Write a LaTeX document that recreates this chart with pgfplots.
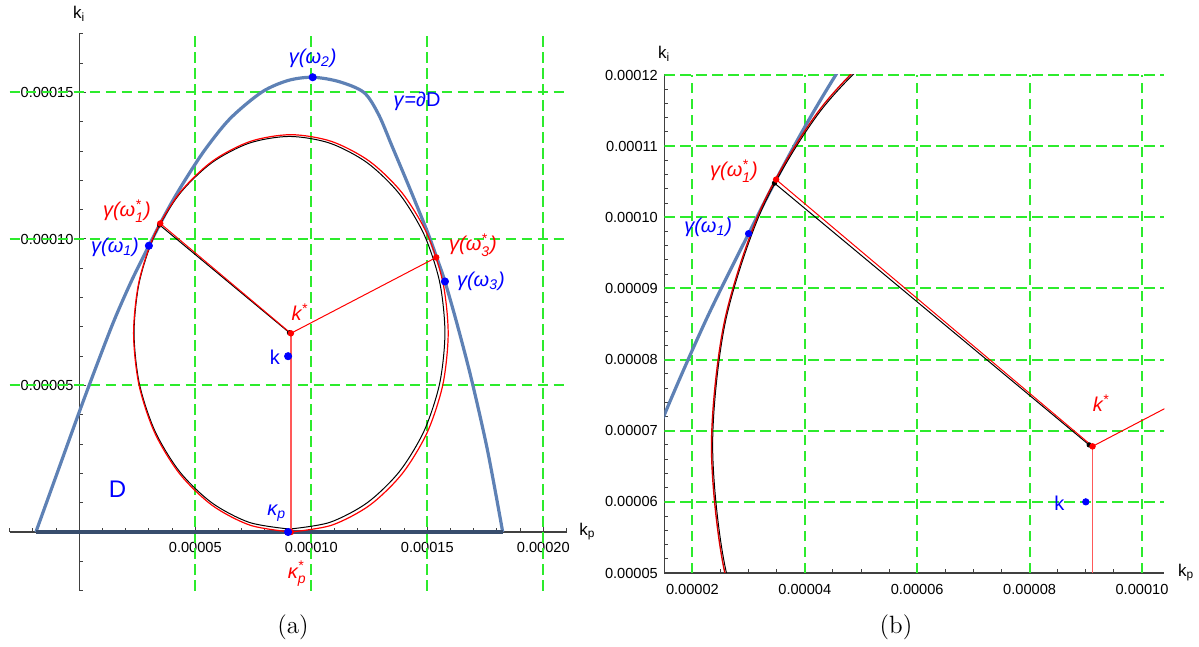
\documentclass[border=0pt]{standalone}
\usepackage{pgfplots}
\pgfplotsset{compat=1.18}
\usepackage{pgfplotstable}
\usepackage{amsmath}
\usepackage{fontspec}
\newfontfamily\sans{Liberation Sans}

\definecolor{curveblue}{RGB}{94,129,181}
\definecolor{axisblue}{RGB}{56,77,109}
\definecolor{gridgreen}{RGB}{45,235,45}

\newcommand{\ticks}{\sans\fontsize{7.3}{8.5}\selectfont}
\newcommand{\lab}{\sans\fontsize{10}{12}\selectfont}
\newcommand{\axlab}{\sans\fontsize{8.5}{10}\selectfont}

% all coordinates in units of 1e-5
% boundary curve gamma = dD (k_p, k_i)
\pgfplotstableread{
kp ki
-1.87 0
-1.0 1.91
0 4.10
0.75 5.69
1.5 7.22
2.25 8.57
3.0 9.77
3.49 10.53
4.0 11.27
4.59 12.05
5.42 13.05
6.5 14.11
7.86 15.01
9.0 15.41
10.06 15.52
11.2 15.37
12.27 15.00
12.9 14.25
13.49 13.15
14.3 11.62
15.04 10.17
15.4 9.38
15.76 8.55
16.3 7.05
16.91 5.19
17.6 2.77
18.25 0
}\gammatab

% largest circle around k* (red)
\pgfplotstableread{
kp ki
9.12 0
10.875 0.231
12.51 0.908
13.914 1.986
14.992 3.39
15.669 5.025
15.90 6.78
15.669 8.535
14.992 10.17
13.914 11.574
12.51 12.652
10.875 13.329
9.12 13.56
7.365 13.329
5.73 12.652
4.326 11.574
3.248 10.17
2.571 8.535
2.34 6.78
2.571 5.025
3.248 3.39
4.326 1.986
5.73 0.908
7.365 0.231
9.12 0
}\redcirc

% approximate circle (black)
\pgfplotstableread{
kp ki
9.06 0.10
10.794 0.328
12.41 0.998
13.798 2.062
14.862 3.45
15.532 5.066
15.76 6.80
15.532 8.534
14.862 10.15
13.798 11.538
12.41 12.602
10.794 13.272
9.06 13.50
7.326 13.272
5.71 12.602
4.322 11.538
3.258 10.15
2.588 8.534
2.36 6.80
2.588 5.066
3.258 3.45
4.322 2.062
5.71 0.998
7.326 0.328
9.06 0.10
}\blackcirc

\pgfplotsset{
  common/.style={
    scale only axis,
    axis line style={black!75, line width=0.6pt},
    tick align=inside,
    major tick length=3.2pt, minor tick length=1.8pt,
    tick style={black!75, line width=0.5pt},
    ticklabel style={font=\ticks},
    clip mode=individual,
  },
  gridline/.style={gridgreen, dash pattern=on 5.2pt off 2.8pt, line width=1pt},
}

\begin{document}
\begin{tikzpicture}
\useasboundingbox (0,0) rectangle (599.5pt,323.5pt);

% ---------------- (a) ----------------
\begin{axis}[common,
  at={(4.85pt,28.2pt)}, anchor=south west,
  width=278.4pt, height=278.35pt,
  xmin=-3, xmax=21, ymin=-2, ymax=17,
  axis lines*=middle,
  xtick={0,5,10,15,20},
  xticklabels={,\text{0.00005},\text{0.00010},\text{0.00015},\text{0.00020}},
  ytick={0,5,10,15},
  yticklabels={,\text{0.00005},\text{0.00010},\text{0.00015}},
  minor xtick={-3,-2,...,21}, minor ytick={-2,-1,...,17},
  xticklabel style={yshift=-1.5pt},
  yticklabel style={xshift=0.6pt},
]
% grid
\pgfplotsinvokeforeach{5,10,15,20}{\addplot[gridline] coordinates {(#1,-2) (#1,17)};}
\pgfplotsinvokeforeach{5,10,15}{\addplot[gridline] coordinates {(-3,#1) (21,#1)};}

\addplot[curveblue, line width=1.6pt, smooth] table {\gammatab};
\addplot[axisblue, line width=1.6pt] coordinates {(-1.87,0) (18.25,0)};
\addplot[black, line width=0.5pt, smooth] table {\blackcirc};
\addplot[red, line width=0.6pt, smooth] table {\redcirc};
\addplot[black, line width=0.5pt] coordinates {(9.06,6.80) (3.46,10.48)};
\addplot[red, line width=0.5pt] coordinates {(9.12,6.78) (3.49,10.53)};
\addplot[red, line width=0.5pt] coordinates {(9.12,6.78) (15.385,9.37)};
\addplot[red!65, line width=1pt] coordinates {(9.12,6.78) (9.12,0)};
\addplot[only marks, mark=*, mark size=1.1pt, black] coordinates {(9.06,6.80) (3.46,10.48)};
\addplot[only marks, mark=*, mark size=1.4pt, red] coordinates {(3.49,10.53) (15.385,9.37) (9.12,6.78) (9.12,0)};
\addplot[only marks, mark=*, mark size=1.8pt, blue] coordinates {(10.06,15.52) (3.0,9.77) (15.76,8.55) (9.0,6.0) (9.0,0)};

\node[font=\lab, text=blue] at (axis cs:10.06,16.18) {\textit{γ(ω$_{\text{2}}$)}};
\node[font=\lab, text=blue] at (axis cs:14.56,14.71) {\textit{γ}=\textit{∂}D};
\node[font=\lab, text=red] at (axis cs:2.05,10.96) {\textit{γ(ω$_{\text{1}}^{\text{*}}$)}};
\node[font=\lab, text=blue] at (axis cs:1.54,9.73) {\textit{γ(ω$_{\text{1}}$)}};
\node[font=\lab, text=red] at (axis cs:16.97,9.80) {\textit{γ(ω$_{\text{3}}^{\text{*}}$)}};
\node[font=\lab, text=blue] at (axis cs:17.31,8.55) {\textit{γ(ω$_{\text{3}}$)}};
\node[font=\lab, text=red] at (axis cs:9.51,7.51) {\textit{k$^{\text{*}}$}};
\node[font=\lab, text=blue] at (axis cs:8.43,5.97) {k};
\node[font=\lab, text=blue] at (axis cs:8.51,0.65) {\textit{κ$_{\text{p}}$}};
\node[font=\lab, text=red] at (axis cs:9.39,-1.42) {\textit{κ$_{\text{p}}^{\text{*}}$}};
\node[font=\sans\fontsize{12}{14}\selectfont, text=blue] at (axis cs:1.65,1.47) {D};
\node[font=\axlab] at (axis cs:0,17) [yshift=10pt] {k\textsubscript{i}};
\node[font=\axlab] at (axis cs:21,0) [xshift=10.5pt] {k\textsubscript{p}};
\end{axis}

% ---------------- (b) ----------------
\begin{axis}[common,
  at={(332.15pt,37pt)}, anchor=south west,
  width=250.1pt, height=249pt,
  xmin=1.5, xmax=10.4, ymin=5, ymax=12,
  axis x line*=bottom, axis y line*=left,
  xtick={2,4,6,8,10},
  xticklabels={\text{0.00002},\text{0.00004},\text{0.00006},\text{0.00008},\text{0.00010}},
  ytick={5,6,7,8,9,10,11,12},
  yticklabels={\text{0.00005},\text{0.00006},\text{0.00007},\text{0.00008},\text{0.00009},\text{0.00010},\text{0.00011},\text{0.00012}},
  minor xtick={1.5,2,2.5,3,3.5,4,4.5,5,5.5,6,6.5,7,7.5,8,8.5,9,9.5,10},
  minor ytick={5,5.2,...,12},
  xticklabel style={yshift=-2pt},
  yticklabel style={xshift=0.3pt},
]
% grid
\pgfplotsinvokeforeach{2,4,6,8,10}{\addplot[gridline] coordinates {(#1,5) (#1,12)};}
\pgfplotsinvokeforeach{6,7,8,9,10,11,12}{\addplot[gridline] coordinates {(1.5,#1) (10.4,#1)};}

\addplot[curveblue, line width=1.6pt, smooth] table {\gammatab};
\addplot[black, line width=0.5pt, smooth] table {\blackcirc};
\addplot[red!85!black, line width=0.7pt, smooth] table {\redcirc};
\addplot[black, line width=0.5pt] coordinates {(9.06,6.80) (3.46,10.48)};
\addplot[red, line width=0.5pt] coordinates {(9.12,6.78) (3.49,10.53)};
\addplot[red, line width=0.5pt] coordinates {(9.12,6.78) (15.385,9.37)};
\addplot[red!65, line width=0.8pt] coordinates {(9.12,6.78) (9.12,0)};
\addplot[only marks, mark=*, mark size=1.1pt, black] coordinates {(9.06,6.80) (3.46,10.48)};
\addplot[only marks, mark=*, mark size=1.4pt, red] coordinates {(3.49,10.53) (9.12,6.78)};
\addplot[only marks, mark=*, mark size=1.6pt, blue] coordinates {(3.0,9.77) (9.0,6.0)};

\node[font=\lab, text=red] at (axis cs:2.74,10.65) {\textit{γ(ω$_{\text{1}}^{\text{*}}$)}};
\node[font=\lab, text=blue] at (axis cs:2.28,9.86) {\textit{γ(ω$_{\text{1}}$)}};
\node[font=\lab, text=red] at (axis cs:9.27,7.39) {\textit{k$^{\text{*}}$}};
\node[font=\lab, text=blue] at (axis cs:8.53,5.98) {k};
\node[font=\axlab] at (axis cs:1.5,12) [yshift=10.5pt] {k\textsubscript{i}};
\node[font=\axlab] at (axis cs:10.4,5) [xshift=10.8pt] {k\textsubscript{p}};
\end{axis}

\node at (146.5pt,10pt) {\fontsize{12.5}{15}\selectfont (a)};
\node at (448pt,10pt) {\fontsize{12.5}{15}\selectfont (b)};
\end{tikzpicture}
\end{document}
